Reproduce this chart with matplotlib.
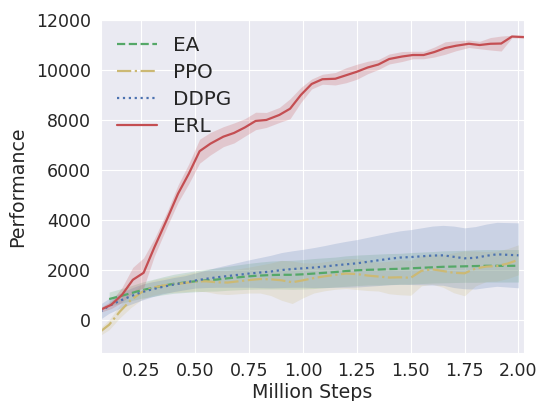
import numpy as np
import matplotlib
matplotlib.use("Agg")
import matplotlib.pyplot as plt
import seaborn as sns

sns.set_style("darkgrid")
plt.rcParams['font.family'] = ['DejaVu Sans']

# ---------------- data ----------------
x_erl = [0.06, 0.11, 0.16, 0.21, 0.26, 0.31, 0.37, 0.42, 0.47, 0.52, 0.57, 0.63, 0.68,
         0.73, 0.78, 0.83, 0.89, 0.94, 0.99, 1.04, 1.09, 1.15, 1.20, 1.25, 1.30, 1.35,
         1.40, 1.46, 1.51, 1.56, 1.61, 1.66, 1.71, 1.77, 1.82, 1.87, 1.92, 1.97, 2.025]
erl_mean = [400, 600, 1000, 1600, 1880, 2900, 4050, 5050, 5850, 6750, 7050, 7330, 7480,
            7700, 7960, 8000, 8200, 8450, 9000, 9440, 9630, 9650, 9790, 9930, 10100, 10220,
            10440, 10540, 10600, 10600, 10720, 10880, 10970, 11050, 11000, 11050, 11060, 11340, 11320]
erl_hw = [100, 150, 300, 500, 600, 350, 300, 350, 400, 480, 450, 400, 400,
          350, 350, 300, 300, 400, 300, 200, 200, 250, 300, 300, 250, 200,
          200, 200, 150, 150, 200, 250, 200, 150, 150, 250, 300, 50, 50]

x_base = [0.06, 0.10, 0.15, 0.20, 0.25, 0.30, 0.35, 0.40, 0.45, 0.50, 0.55, 0.60, 0.65,
          0.70, 0.75, 0.80, 0.85, 0.90, 0.95, 1.00, 1.05, 1.10, 1.15, 1.20, 1.25, 1.30,
          1.35, 1.40, 1.45, 1.50, 1.55, 1.60, 1.65, 1.70, 1.75, 1.80, 1.85, 1.90, 1.95, 2.00]

ea_mean = [830, 940, 1060, 1180, 1270, 1360, 1440, 1490, 1540, 1580, 1610, 1660,
           1700, 1740, 1770, 1790, 1800, 1800, 1820, 1850, 1880, 1910, 1950, 1980, 2000,
           2010, 2030, 2040, 2060, 2080, 2100, 2120, 2130, 2140, 2150, 2160, 2160, 2160, 2160]
ea_hw = [280, 290, 300, 320, 340, 360, 380, 400, 420, 440, 460, 480,
         500, 520, 540, 560, 570, 580, 590, 600, 600, 600, 610, 610, 610,
         620, 620, 620, 630, 630, 630, 640, 640, 640, 650, 650, 650, 650, 650]

ppo_mean = [-470, -200, 330, 780, 1100, 1280, 1370, 1420, 1470, 1530, 1540, 1500, 1490,
            1540, 1590, 1630, 1620, 1580, 1500, 1580, 1670, 1740, 1800, 1850, 1830, 1770,
            1730, 1690, 1700, 1680, 1960, 2020, 1950, 1880, 1860, 2050, 2130, 2150, 2250, 2400]
ppo_hw = [150, 200, 250, 300, 300, 300, 300, 320, 350, 380, 420, 460, 480,
          500, 520, 560, 650, 800, 850, 700, 600, 580, 580, 600, 620, 600,
          580, 650, 700, 700, 600, 600, 650, 800, 900, 700, 600, 600, 600, 600]

ddpg_mean = [330, 560, 760, 940, 1100, 1220, 1320, 1410, 1480, 1570, 1640, 1700, 1750,
             1800, 1850, 1890, 1930, 1990, 2030, 2060, 2090, 2130, 2180, 2220, 2260, 2320,
             2380, 2440, 2490, 2510, 2540, 2570, 2580, 2520, 2460, 2480, 2560, 2620, 2600, 2580]
ddpg_hw = [300, 300, 300, 320, 320, 300, 280, 280, 280, 300, 350, 400, 450,
           500, 550, 600, 650, 700, 730, 760, 800, 840, 880, 920, 950, 980,
           1010, 1040, 1070, 1100, 1140, 1180, 1200, 1230, 1220, 1250, 1270, 1280, 1290, 1300]

x_ticks = [0.25, 0.50, 0.75, 1.00, 1.25, 1.50, 1.75, 2.00]
y_ticks = [0, 2000, 4000, 6000, 8000, 10000, 12000]

# ---------------- plot ----------------
c_yellow = "#CCB974"
c_green = "#55A868"
c_blue = "#4C72B0"
c_red = "#C44E52"

fig = plt.figure(figsize=(5.41, 4.01), dpi=100)
ax = fig.add_axes([0.1858, 0.1204, 0.9686 - 0.1858, 0.950 - 0.1204])

def band(x, m, h, color, ls, label, alpha=0.2):
    x = np.asarray(x, float); m = np.asarray(m, float); h = np.asarray(h, float)
    ax.fill_between(x, m - h, m + h, color=color, alpha=alpha, linewidth=0)
    ax.plot(x, m, color=color, linestyle=ls, linewidth=1.6, label=label)

band(x_base[1:], ea_mean, ea_hw, c_green, '--', 'EA')
band(x_base, ppo_mean, ppo_hw, c_yellow, '-.', 'PPO')
band(x_base, ddpg_mean, ddpg_hw, c_blue, ':', 'DDPG')
band(x_erl, erl_mean, erl_hw, c_red, '-', 'ERL', alpha=0.22)

ax.set_xlim(0.06, 2.026)
ax.set_ylim(-1320, 12000)
ax.set_xticks(x_ticks)
ax.set_xticklabels([f"{t:.2f}" for t in x_ticks])
ax.set_yticks(y_ticks)
ax.tick_params(axis='both', labelsize=12.5, colors='#262626', pad=7, length=0)
ax.set_xlabel("Million Steps", fontsize=13.7, color='#262626', labelpad=2)
ax.set_ylabel("Performance", fontsize=13.7, color='#262626', labelpad=6)

leg = ax.legend(loc='upper left', fontsize=14.4, frameon=False, labelspacing=0.4,
                handlelength=2.0, handletextpad=0.8, borderaxespad=0.4)
for t in leg.get_texts():
    t.set_color('#262626')

fig.savefig("out.png", dpi=100)
